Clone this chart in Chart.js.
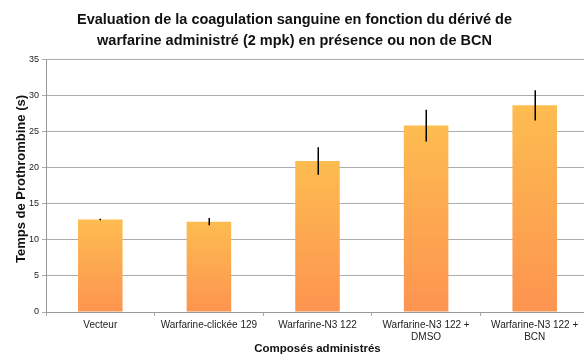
<!DOCTYPE html>
<html>
<head>
<meta charset="utf-8">
<script src="https://cdn.jsdelivr.net/npm/chart.js@4"></script>
<style>
  html, body { margin: 0; padding: 0; background: #fff; overflow: hidden; }
  #cadre { width: 584px; height: 356px; overflow: hidden; }
  #wrap { width: 589px; height: 356px; }
</style>
</head>
<body>
<div id="cadre"><div id="wrap"><canvas id="grafico"></canvas></div></div>
<script>
// Temps de prothrombine par composé
const categories = ['Vecteur', 'Warfarine-clickée 129', 'Warfarine-N3 122', ['Warfarine-N3 122 +', 'DMSO'], ['Warfarine-N3 122 +', 'BCN']];
const moyennes = [12.8, 12.5, 20.9, 25.8, 28.6];
const ecarts = [0.12, 0.5, 1.9, 2.2, 2.1];
const yTicks = [0, 5, 10, 15, 20, 25, 30, 35];

const police = "'Liberation Sans', Arial, sans-serif";

// barres d'erreur verticales, sans chapeau
const barresErreur = {
    id: 'barresErreur',
    afterDatasetsDraw(chart) {
        const c = chart.ctx;
        const y = chart.scales.y;
        const meta = chart.getDatasetMeta(0);
        c.save();
        c.strokeStyle = '#000';
        c.lineWidth = 1.5;
        meta.data.forEach((bar, i) => {
            const x = Math.round(bar.x) + 0.25;
            c.beginPath();
            c.moveTo(x, y.getPixelForValue(moyennes[i] + ecarts[i]));
            c.lineTo(x, y.getPixelForValue(moyennes[i] - ecarts[i]));
            c.stroke();
        });
        c.restore();
    }
};

// titre de l'axe vertical, un peu au-dessus du milieu
const titreY = {
    id: 'titreY',
    afterDraw(chart) {
        const c = chart.ctx;
        c.save();
        c.translate(21, 179);
        c.rotate(-Math.PI / 2);
        c.fillStyle = '#111';
        c.font = 'bold 13px ' + police;
        c.textAlign = 'center';
        c.textBaseline = 'middle';
        c.fillText('Temps de Prothrombine (s)', 0, 0);
        c.restore();
    }
};

const ctx = document.getElementById('grafico').getContext('2d');
const chart = new Chart(ctx, {
    type: 'bar',
    data: {
        labels: categories,
        datasets: [{
            data: moyennes,
            backgroundColor: function(context) {
                const ch = context.chart;
                const y = ch.scales.y;
                if (!ch.chartArea || !y) return '#fca94f';
                const v = context.raw;
                const top = y.getPixelForValue(v);
                const bottom = y.getPixelForValue(0);
                const g = ch.ctx.createLinearGradient(0, top, 0, bottom);
                g.addColorStop(0, '#fdbc50');
                g.addColorStop(1, '#fd9450');
                return g;
            },
            borderWidth: 0,
            categoryPercentage: 0.41,
            barPercentage: 1
        }]
    },
    options: {
        responsive: true,
        maintainAspectRatio: false,
        animation: false,
        layout: { padding: { left: 0, right: 0, top: 0, bottom: 0 } },
        plugins: {
            legend: { display: false },
            tooltip: { enabled: false },
            title: {
                display: true,
                text: ['Evaluation de la coagulation sanguine en fonction du dérivé de',
                       'warfarine administré (2 mpk) en présence ou non de BCN'],
                color: '#111',
                font: { family: police, size: 14.5, weight: 'bold', lineHeight: 1.45 },
                padding: { top: 9, bottom: 8 }
            }
        },
        scales: {
            x: {
                grid: { offset: true, drawOnChartArea: false, drawTicks: true, tickLength: 4, color: '#aaa' },
                border: { color: '#999' },
                ticks: { color: '#222', font: { family: police, size: 10 }, maxRotation: 0, autoSkip: false, padding: 3 },
                title: {
                    display: true,
                    text: 'Composés administrés',
                    color: '#111',
                    font: { family: police, size: 11.5, weight: 'bold' },
                    padding: { top: 5, bottom: 0 }
                },
                afterFit(scale) { scale.height = 44; }
            },
            y: {
                min: 0,
                max: 35,
                z: 1,
                afterBuildTicks(scale) { scale.ticks = yTicks.map(v => ({ value: v })); },
                grid: { color: 'rgba(90,90,90,0.5)', tickLength: 4, lineWidth: 1 },
                border: { color: '#999' },
                ticks: { color: '#222', font: { family: police, size: 9 }, padding: 3 },
                afterFit(scale) { scale.width = 46; }
            }
        }
    },
    plugins: [barresErreur, titreY]
});
</script>
</body>
</html>
